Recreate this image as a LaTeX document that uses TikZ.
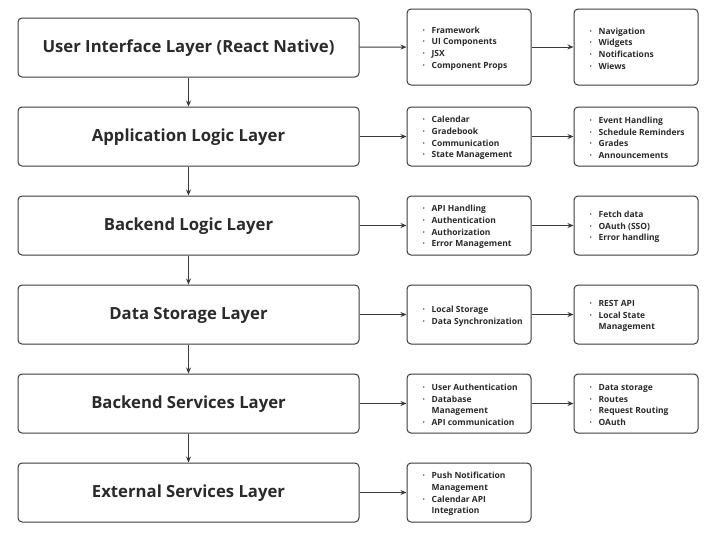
\documentclass[tikz,border=0pt]{standalone}
\usepackage{fontspec}
\setmainfont{Open Sans}
\usetikzlibrary{arrows.meta}

\definecolor{edge}{HTML}{3A3A3A}
\definecolor{ink}{HTML}{2A2A2A}
\newcommand{\itm}{\textperiodcentered\hspace{6.5pt}}
\newcommand{\gap}{\phantom{\textperiodcentered}\hspace{6.5pt}}

\tikzset{
  layer/.style={draw=edge, line width=1pt, rounded corners=4pt, minimum width=341pt, minimum height=59pt, text=ink, text depth=2pt, font=\bfseries\fontsize{16.7}{20}\selectfont},
  part/.style={draw=edge, line width=1pt, rounded corners=4pt, minimum width=124pt, minimum height=59pt},
  items/.style={anchor=west, inner sep=0pt, align=left, yshift=-1.5pt, text=ink, font=\bfseries\fontsize{8.5}{11.6}\selectfont},
  link/.style={draw=edge, line width=0.9pt, -{Stealth[length=6pt,width=5pt]}}
}

\begin{document}
\begin{tikzpicture}[x=1pt,y=-1pt]
\useasboundingbox (0,0) rectangle (719,538);

\coordinate (UI) at (188.5,47.5);
\coordinate (App) at (188.5,136.5);
\coordinate (Back) at (188.5,225.5);
\coordinate (Data) at (188.5,314.5);
\coordinate (Serv) at (188.5,403.5);
\coordinate (Ext) at (188.5,492.5);

\coordinate (UIa) at (469,47);
\coordinate (UIb) at (636,47);
\coordinate (Appa) at (469,136.5);
\coordinate (Appb) at (636,136.5);
\coordinate (Backa) at (469,225.5);
\coordinate (Backb) at (636,225.5);
\coordinate (Dataa) at (469,314.5);
\coordinate (Datab) at (636,314.5);
\coordinate (Serva) at (469,403.5);
\coordinate (Servb) at (636,403.5);
\coordinate (Exta) at (469,492.5);

% layers
\node[layer] (UI) at (UI) {User Interface Layer (React Native)};
\node[layer] (App) at (App) {Application Logic Layer};
\node[layer] (Back) at (Back) {Backend Logic Layer};
\node[layer] (Data) at (Data) {Data Storage Layer};
\node[layer] (Serv) at (Serv) {Backend Services Layer};
\node[layer] (Ext) at (Ext) {External Services Layer};

% detail boxes
\node[part, minimum height=76pt] (UIa) at (UIa) {};
\node[part, minimum height=76pt] (UIb) at (UIb) {};
\node[part] (Appa) at (Appa) {};
\node[part] (Appb) at (Appb) {};
\node[part] (Backa) at (Backa) {};
\node[part] (Backb) at (Backb) {};
\node[part] (Dataa) at (Dataa) {};
\node[part] (Datab) at (Datab) {};
\node[part] (Serva) at (Serva) {};
\node[part] (Servb) at (Servb) {};
\node[part] (Exta) at (Exta) {};

\node[items] (UIatxt) at ([xshift=16pt]UIa.west) {\itm Framework\\ \itm UI Components\\ \itm JSX\\ \itm Component Props};
\node[items] (UIbtxt) at ([xshift=16pt]UIb.west) {\itm Navigation\\ \itm Widgets\\ \itm Notifications\\ \itm Wiews};
\node[items] (Appatxt) at ([xshift=16pt]Appa.west) {\itm Calendar\\ \itm Gradebook\\ \itm Communication\\ \itm State Management};
\node[items] (Appbtxt) at ([xshift=16pt]Appb.west) {\itm Event Handling\\ \itm Schedule Reminders\\ \itm Grades\\ \itm Announcements};
\node[items] (Backatxt) at ([xshift=16pt]Backa.west) {\itm API Handling\\ \itm Authentication\\ \itm Authorization\\ \itm Error Management};
\node[items] (Backbtxt) at ([xshift=16pt]Backb.west) {\itm Fetch data\\ \itm OAuth (SSO)\\ \itm Error handling};
\node[items] (Dataatxt) at ([xshift=16pt]Dataa.west) {\itm Local Storage\\ \itm Data Synchronization};
\node[items] (Databtxt) at ([xshift=16pt]Datab.west) {\itm REST API\\ \itm Local State\\ \gap Management};
\node[items] (Servatxt) at ([xshift=16pt]Serva.west) {\itm User Authentication\\ \itm Database\\ \gap Management\\ \itm API communication};
\node[items] (Servbtxt) at ([xshift=16pt]Servb.west) {\itm Data storage\\ \itm Routes\\ \itm Request Routing\\ \itm OAuth};
\node[items] (Extatxt) at ([xshift=16pt]Exta.west) {\itm Push Notification\\ \gap Management\\ \itm Calendar API\\ \gap Integration};

% down the stack
\draw[link] (UI)--(App);
\draw[link] (App)--(Back);
\draw[link] (Back)--(Data);
\draw[link] (Data)--(Serv);
\draw[link] (Serv)--(Ext);

% out to the details
\draw[link] (UI)--(UIa);
\draw[link] (UIa)--(UIb);
\draw[link] (App)--(Appa);
\draw[link] (Appa)--(Appb);
\draw[link] (Back)--(Backa);
\draw[link] (Backa)--(Backb);
\draw[link] (Data)--(Dataa);
\draw[link] (Dataa)--(Datab);
\draw[link] (Serv)--(Serva);
\draw[link] (Serva)--(Servb);
\draw[link] (Ext)--(Exta);

\end{tikzpicture}
\end{document}
